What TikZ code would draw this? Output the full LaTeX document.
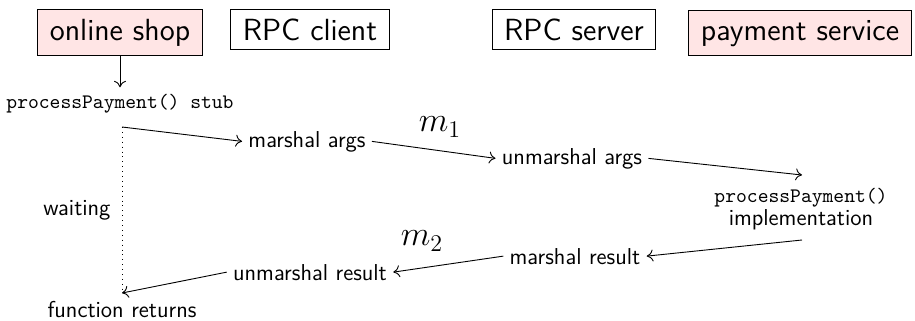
\documentclass[tikz,border=0pt]{standalone}
\usepackage{fontspec}
\usetikzlibrary{arrows.meta}
\begin{document}
\begin{tikzpicture}[x=0.5pt,y=-0.5pt,
  every node/.style={font=\sffamily\fontsize{11.5}{13}\selectfont, inner sep=3pt},
  box/.style={draw, line width=0.5pt, font=\sffamily\fontsize{15.3}{18}\selectfont, inner xsep=6pt, inner ysep=4.6pt, anchor=base},
  hl/.style={fill=red!10},
  code/.style={font=\ttfamily\fontsize{10.3}{12.5}\selectfont},
  lbl/.style={font=\fontsize{16.5}{19}\selectfont},
  arr/.style={-{Computer Modern Rightarrow[length=3.2pt, width=6pt]}, line width=0.45pt}]
\useasboundingbox (0,0) rectangle (915,321);
\node[box,hl] (shop) at (120,40) {online shop};
\node[box] (client) at (310,40) {RPC client};
\node[box] (server) at (574,40) {RPC server};
\node[box,hl] (pay) at (800,40) {payment service};

\node[code, anchor=base] (stub) at (120,108) {processPayment() stub};
\node[anchor=base] (marg) at (307,147) {marshal args};
\node[anchor=base] (uarg) at (572,164) {unmarshal args};
\node[code, anchor=base, align=center] (impl) at (801,225) {processPayment()\\[-1pt]{\sffamily\fontsize{11.5}{13}\selectfont implementation}};
\node[anchor=base] (mres) at (575,264) {marshal result};
\node[anchor=base] (ures) at (310,280) {unmarshal result};
\node[anchor=base] (ret) at (122,317) {function returns};
\node[anchor=base] (wait) at (77,215) {waiting};
\node[lbl] (m1) at (440,127) {$m_1$};
\node[lbl] (m2) at (422,241) {$m_2$};

\coordinate (t0) at (122,127);
\coordinate (t1) at (122,293);
\coordinate (p0) at (802,175);
\coordinate (p1) at (802,240);

\draw[arr] (shop) -- (stub);
\draw[dotted, line width=0.45pt] (t0) -- (t1);
\draw[arr] (t0) -- (marg.west);
\draw[arr] (marg.east) -- (uarg.west);
\draw[arr] (uarg.east) -- (p0);
\draw[arr] (p1) -- (mres.east);
\draw[arr] (mres.west) -- (ures.east);
\draw[arr] (ures.west) -- (t1);
\end{tikzpicture}
\end{document}
